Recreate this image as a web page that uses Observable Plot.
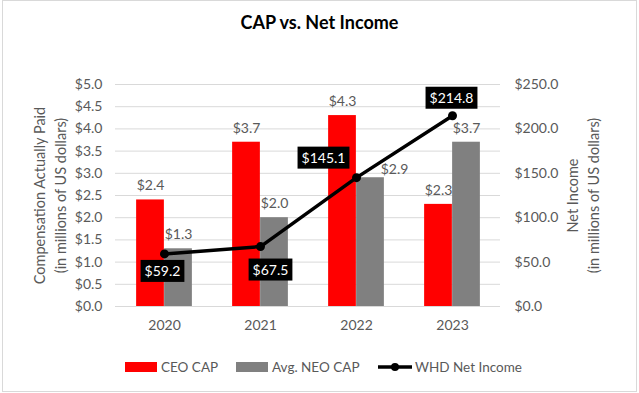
<!DOCTYPE html>
<html>
<head>
<meta charset="utf-8">
<script src="https://cdn.jsdelivr.net/npm/d3@7"></script>
<script src="https://cdn.jsdelivr.net/npm/@observablehq/plot@0.6"></script>
<style>
  html, body { margin: 0; padding: 0; background: #fff; }
  #wrap { position: relative; width: 639px; height: 393px; overflow: hidden; font-family: Lato, "Open Sans", sans-serif; }
  #frame { position: absolute; left: 2px; top: 0px; width: 635px; height: 392px; box-sizing: border-box; border: 1px solid #d9d9d9; }
  #title { position: absolute; left: 0; top: 0; width: 639px; height: 44px; line-height: 44px; text-align: center; font-weight: bold; font-size: 18px; color: #000; }
  #chart { position: absolute; left: 0; top: 44px; }
  #legend { position: absolute; left: 0; top: 340px; }
</style>
</head>
<body>
<div id="wrap">
  <div id="frame"></div>
  <div id="title">CAP vs. Net Income</div>
  <div id="chart"></div>
  <svg id="legend" width="639" height="50"></svg>
</div>
<script>
const years = ["2020", "2021", "2022", "2023"];
const ceoCap = [2.4, 3.7, 4.3, 2.3];
const neoCap = [1.3, 2.0, 2.9, 3.7];
const netIncome = [59.2, 67.5, 145.1, 214.8];
const leftTicks = [0, 0.5, 1, 1.5, 2, 2.5, 3, 3.5, 4, 4.5, 5];
const rightTicks = [0, 50, 100, 150, 200, 250];
const seriesNames = ["CEO CAP", "Avg. NEO CAP", "WHD Net Income"];

const RATIO = 50; // right axis units per left axis unit
const data = years.map((y, i) => ({year: y, ceo: ceoCap[i], neo: neoCap[i], ni: netIncome[i]}));

const W = 639, H = 296, mL = 115, mR = 139, mT = 40, mB = 34;
const band = (W - mL - mR) / years.length;
const barW = 28;
const txtColor = "#595959";

const niLabel = (year, dx, dy) => Plot.text(data.filter(d => d.year === year), {
  x: "year", y: d => d.ni / RATIO, text: d => "$" + d.ni.toFixed(1),
  fill: "white", fontSize: 14, dx, dy, ariaDescription: "ni-label"
});

const plot = Plot.plot({
  width: W, height: H,
  marginLeft: mL, marginRight: mR, marginTop: mT, marginBottom: mB,
  style: {fontFamily: "Lato, 'Open Sans', sans-serif", fontSize: "14px", color: txtColor, background: "transparent", overflow: "visible"},
  x: {domain: years, padding: 0, axis: null},
  y: {domain: [0, 5], axis: null},
  marks: [
    Plot.gridY(leftTicks, {stroke: "#d9d9d9", strokeOpacity: 1}),
    Plot.axisY(leftTicks, {anchor: "left", tickSize: 0, tickPadding: 13, tickFormat: d => "$" + d.toFixed(1), fontSize: 14, label: null}),
    Plot.axisY(rightTicks.map(v => v / RATIO), {anchor: "right", tickSize: 0, tickPadding: 14, tickFormat: d => "$" + (d * RATIO).toFixed(1), fontSize: 14, label: null}),
    Plot.axisX({tickSize: 0, tickPadding: 14, fontSize: 14, label: null}),
    Plot.text(["Compensation Actually Paid\n(in millions of US dollars)"], {frameAnchor: "left", textAnchor: "middle", rotate: -90, dx: -67, fontSize: 14.5, lineHeight: 1.45, fill: txtColor}),
    Plot.text(["Net Income\n(in millions of US dollars)"], {frameAnchor: "right", textAnchor: "middle", rotate: -90, dx: 81, fontSize: 14.5, lineHeight: 1.45, fill: txtColor}),
    Plot.barY(data, {x: "year", y: "ceo", fill: "#ff0000", insetLeft: band / 2 - barW, insetRight: band / 2}),
    Plot.barY(data, {x: "year", y: "neo", fill: "#808080", insetLeft: band / 2, insetRight: band / 2 - barW}),
    Plot.text(data, {x: "year", y: "ceo", text: d => "$" + d.ceo.toFixed(1), dx: -barW / 2, dy: -14, fill: txtColor, fontSize: 14}),
    Plot.text(data.filter(d => d.year !== "2022"), {x: "year", y: "neo", text: d => "$" + d.neo.toFixed(1), dx: barW / 2, dy: -14, fill: txtColor, fontSize: 14}),
    Plot.text(data.filter(d => d.year === "2022"), {x: "year", y: "neo", text: d => "$" + d.neo.toFixed(1), dx: 38, dy: -8, fill: txtColor, fontSize: 14}),
    Plot.line(data, {x: "year", y: d => d.ni / RATIO, stroke: "black", strokeWidth: 3.5}),
    Plot.dot(data, {x: "year", y: d => d.ni / RATIO, fill: "black", r: 4.5}),
    niLabel("2020", -2, 18),
    niLabel("2021", 10, 24),
    niLabel("2022", -33, -19),
    niLabel("2023", -1, -17)
  ]
});
document.getElementById("chart").appendChild(plot);

// black boxes behind net income labels
plot.querySelectorAll('g[aria-description="ni-label"] text').forEach(t => {
  const bb = t.getBBox();
  const r = document.createElementNS("http://www.w3.org/2000/svg", "rect");
  const px = 4, py = 2.5;
  r.setAttribute("x", bb.x - px);
  r.setAttribute("y", bb.y - py);
  r.setAttribute("width", bb.width + 2 * px);
  r.setAttribute("height", bb.height + 2 * py);
  r.setAttribute("fill", "black");
  if (t.getAttribute("transform")) r.setAttribute("transform", t.getAttribute("transform"));
  t.parentNode.insertBefore(r, t);
});

// legend
const lg = d3.select("#legend");
const ly = 27;
const items = [
  {x: 125, type: "rect", color: "#ff0000", name: seriesNames[0]},
  {x: 236, type: "rect", color: "#808080", name: seriesNames[1]},
  {x: 378, type: "line", color: "black", name: seriesNames[2]}
];
items.forEach(it => {
  if (it.type === "rect") {
    lg.append("rect").attr("x", it.x).attr("y", ly - 5).attr("width", 32).attr("height", 10).attr("fill", it.color);
    lg.append("text").attr("x", it.x + 36).attr("y", ly).attr("dy", "0.35em")
      .attr("font-family", "Lato, 'Open Sans', sans-serif").attr("font-size", 13.5).attr("fill", txtColor).text(it.name);
  } else {
    lg.append("line").attr("x1", it.x).attr("x2", it.x + 34).attr("y1", ly).attr("y2", ly).attr("stroke", it.color).attr("stroke-width", 3.5);
    lg.append("circle").attr("cx", it.x + 17).attr("cy", ly).attr("r", 4).attr("fill", it.color);
    lg.append("text").attr("x", it.x + 37).attr("y", ly).attr("dy", "0.35em")
      .attr("font-family", "Lato, 'Open Sans', sans-serif").attr("font-size", 13.5).attr("fill", txtColor).text(it.name);
  }
});
</script>
</body>
</html>
